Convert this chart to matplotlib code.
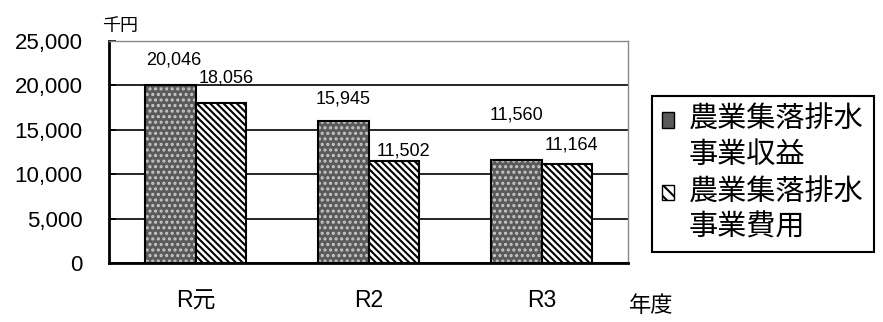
import matplotlib.pyplot as plt
import matplotlib.patches as mpatches
from matplotlib.legend_handler import HandlerPatch
import numpy as np

# 年度別 農業集落排水 事業収益・事業費用（千円）
nendo = ['R元', 'R2', 'R3']
shueki = [20046, 15945, 11560]
hiyou = [18056, 11502, 11164]
series_names = ['農業集落排水\n事業収益', '農業集落排水\n事業費用']
y_ticks = [0, 5000, 10000, 15000, 20000, 25000]

# 数値ラベルのずらし量（ピクセル）
shueki_off = [(3, 25), (0, 22), (0, 45)]
hiyou_off = [(6, 25), (10, 10), (5, 19)]

plt.rcParams['font.family'] = ['Liberation Sans', 'Noto Sans CJK JP']
plt.rcParams['hatch.linewidth'] = 1.5


class TopSquare(HandlerPatch):
    """凡例の四角を1行目の高さに寄せる"""
    def __init__(self, shift, **kw):
        super().__init__(**kw)
        self.shift = shift

    def create_artists(self, legend, orig_handle, xdescent, ydescent,
                       width, height, fontsize, trans):
        p = mpatches.Rectangle((-xdescent, -ydescent + self.shift), width, height)
        self.update_prop(p, orig_handle, legend)
        p.set_transform(trans)
        return [p]


fig = plt.figure(figsize=(8.83, 3.22), dpi=100)
ax = fig.add_axes([109 / 883, 59 / 322, 519 / 883, 222 / 322])

x = np.arange(len(nendo))
w = 0.29
gray = '#5a5a5a'

# 収益: 濃い灰色地に明るい点、枠は黒
ax.bar(x - w / 2, shueki, w, color=gray, edgecolor='#c8c8c8', hatch='...', lw=0, zorder=2)
ax.bar(x - w / 2, shueki, w, fill=False, edgecolor='black', lw=1.5, zorder=3)
# 費用: 白地に斜線
ax.bar(x + w / 2, hiyou, w, color='white', edgecolor='black', hatch='\\\\\\\\\\', lw=1.5, zorder=3)

for xi, v, (dx, dy) in zip(x - w / 2, shueki, shueki_off):
    ax.annotate(f'{v:,}', (xi, v), xytext=(dx, dy), textcoords='offset pixels',
                ha='center', va='center', fontsize=13)
for xi, v, (dx, dy) in zip(x + w / 2, hiyou, hiyou_off):
    ax.annotate(f'{v:,}', (xi, v), xytext=(dx, dy), textcoords='offset pixels',
                ha='center', va='center', fontsize=13)

ax.set_xlim(-0.5, len(nendo) - 0.5)
ax.set_ylim(0, 25000)
ax.set_yticks(y_ticks)
ax.set_yticklabels([f'{t:,}' for t in y_ticks])
ax.set_xticks(x)
ax.set_xticklabels(nendo)
ax.yaxis.grid(True, color='black', lw=1.2)
ax.set_axisbelow(True)

ax.tick_params(axis='y', direction='in', length=5, width=1.2, pad=19, labelsize=16)
ax.tick_params(axis='x', length=0, pad=19, labelsize=16.5)

for side in ['left', 'bottom']:
    ax.spines[side].set_color('black')
    ax.spines[side].set_linewidth(2)
for side in ['top', 'right']:
    ax.spines[side].set_color('#888888')
    ax.spines[side].set_linewidth(1)

handles = [
    mpatches.Patch(facecolor=gray, edgecolor='black', lw=1),
    mpatches.Patch(facecolor='white', edgecolor='black', hatch='\\\\\\', lw=1),
]
leg = fig.legend(handles, series_names, loc='upper left',
                 bbox_to_anchor=(652 / 883, 1 - 96 / 322), fontsize=21,
                 frameon=True, fancybox=False, edgecolor='black', framealpha=1,
                 handlelength=0.42, handleheight=0.42, handletextpad=0.5,
                 borderpad=0.35, labelspacing=0.35, borderaxespad=0,
                 handler_map={mpatches.Patch: TopSquare(shift=13)})
leg.get_frame().set_linewidth(1.5)
for t in leg.get_texts():
    t.set_linespacing(1.3)

fig.text(120 / 883, 1 - 27 / 322, '千円', ha='center', va='center', fontsize=13)
fig.text(651 / 883, 1 - 307 / 322, '年度', ha='center', va='center', fontsize=16)

fig.savefig('out.png', dpi=100)
